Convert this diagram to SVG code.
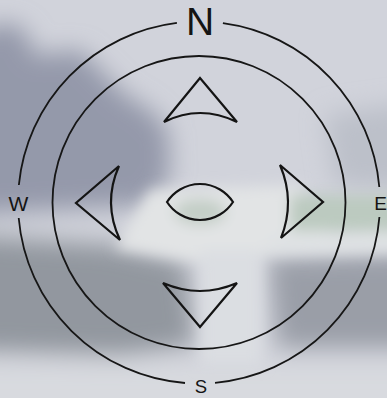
<svg xmlns="http://www.w3.org/2000/svg" width="387" height="398" viewBox="0 0 387 398">
  <defs>
    <filter id="blur" filterUnits="userSpaceOnUse" x="-100" y="-100" width="587" height="598">
      <feGaussianBlur stdDeviation="12"/>
    </filter>
    <filter id="blur2" filterUnits="userSpaceOnUse" x="-100" y="-100" width="587" height="598">
      <feGaussianBlur stdDeviation="7"/>
    </filter>
  </defs>
  <style>
    .ln { fill: none; stroke: #161616; stroke-width: 1.8; }
    .sh { fill: none; stroke: #141414; stroke-width: 2.2; stroke-linejoin: miter; }
    .lbl { font-family: "Liberation Sans", Arial, sans-serif; fill: #141414; text-anchor: middle; }
  </style>

  <g id="background">
    <rect width="387" height="398" fill="#d1d3db"/>
    <g filter="url(#blur)">
      <!-- dark trees upper left -->
      <path d="M-40,40 L5,22 L25,30 L35,55 L80,50 L100,70 L125,95 L150,110 L168,130 L170,175 L150,205 L-40,215 Z" fill="#9499aa"/>
      <!-- right gray -->
      <path d="M325,115 L430,100 L430,190 L335,185 Z" fill="#bcc0c9"/>
      <!-- lower left dark band -->
      <path d="M-40,235 L110,245 L185,262 L195,345 L120,355 L-40,350 Z" fill="#92979f"/>
      <!-- lower right dark band -->
      <path d="M268,258 L430,252 L430,348 L278,348 Z" fill="#9a9ea7"/>
      <!-- bottom light -->
      <rect x="-40" y="365" width="470" height="80" fill="#d8dadf"/>
    </g>
    <g filter="url(#blur2)">
      <!-- bright middle band -->
      <path d="M150,190 L300,185 L335,240 L270,255 L200,262 L115,248 Z" fill="#e2e4e5"/>
      <path d="M265,235 L430,230 L430,252 L270,256 Z" fill="#dfe2e4"/>
      <!-- center column -->
      <rect x="200" y="250" width="62" height="115" fill="#dbdee2"/>
      <!-- green tints -->
      <ellipse cx="200" cy="212" rx="26" ry="13" fill="#c3cec6"/>
      <rect x="290" y="195" width="140" height="36" fill="#bccac0"/>
    </g>
  </g>

  <g id="rings">
    <path class="ln" d="M222.9,23.1 A181,181 0 0 1 379.3,187.0"/>
    <path class="ln" d="M379.4,217.0 A181,181 0 0 1 215.0,382.8"/>
    <path class="ln" d="M185.0,383.0 A181,181 0 0 1 18.7,218.0"/>
    <path class="ln" d="M18.85,185.0 A181,181 0 0 1 176.9,22.9"/>
    <circle class="ln" cx="199" cy="202.5" r="146.5"/>
  </g>

  <g id="label-N"><text class="lbl" x="200" y="35" font-size="39">N</text></g>
  <g id="label-E"><text class="lbl" x="380.5" y="209.5" font-size="19">E</text></g>
  <g id="label-S"><text class="lbl" x="201" y="393" font-size="18.5">S</text></g>
  <g id="label-W"><text class="lbl" x="18.5" y="211" font-size="21">W</text></g>

  <g id="arrow-up"><path class="sh" d="M164,122 L200,78 L237,122 Q200,104 164,122 Z"/></g>
  <g id="arrow-down"><path class="sh" d="M163,283 Q200,299 237,283 L200,327 Z"/></g>
  <g id="arrow-left"><path class="sh" d="M119,166 L76,203 L120,240 Q102.5,203 119,166 Z"/></g>
  <g id="arrow-right"><path class="sh" d="M280,165 L323,202 L281,238 Q295.5,201.5 280,165 Z"/></g>
  <g id="eye"><path class="sh" d="M167,202 A39.25,39.25 0 0 1 233,202 A39.25,39.25 0 0 1 167,202 Z"/></g>
</svg>
